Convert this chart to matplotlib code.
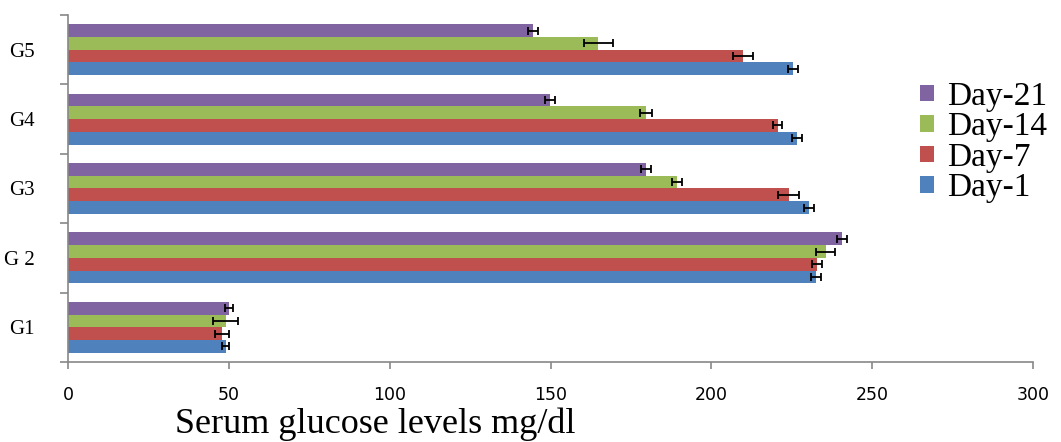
import numpy as np
import matplotlib.pyplot as plt

groups = ["G1", "G 2", "G3", "G4", "G5"]
series = ["Day-1", "Day-7", "Day-14", "Day-21"]
colors = ["#4F81BD", "#C0504D", "#9BBB59", "#8064A2"]

day1 = [49, 232.5, 230.3, 226.6, 225.4]
day7 = [48, 232.8, 224, 220.7, 209.8]
day14 = [49, 235.6, 189.3, 179.7, 164.8]
day21 = [50, 240.6, 179.7, 149.8, 144.5]

err1 = [1.0, 1.5, 1.5, 1.5, 1.5]
err7 = [2.2, 1.5, 3.3, 1.4, 3.0]
err14 = [4.0, 3.0, 1.5, 2.0, 4.5]
err21 = [1.3, 1.5, 1.5, 1.5, 1.5]

vals = [day1, day7, day14, day21]
errs = [err1, err7, err14, err21]

fig = plt.figure(figsize=(10.61, 4.42), dpi=100)
ax = fig.add_axes([68/1061, 1-362/442, (1033-68)/1061, (362-15)/442])

y = np.arange(len(groups))
h = 0.184
for i in range(4):
    ax.barh(y + (i - 1.5)*h, vals[i], height=h, color=colors[i], label=series[i],
            xerr=errs[i], error_kw=dict(ecolor="black", elinewidth=1.3, capsize=3, capthick=1.3))

ax.set_xlim(0, 300)
ax.set_ylim(-0.5, 4.5)
ax.set_xticks(np.arange(0, 301, 50))
ax.set_yticks(y)
ax.set_yticklabels(groups, family="Liberation Serif", fontsize=15)
ax.set_yticks(np.arange(-0.5, 5, 1), minor=True)
ax.tick_params(axis="y", which="major", length=0, pad=24)
ax.tick_params(axis="y", which="minor", length=6, color="#888888", width=1.2)
ax.tick_params(axis="x", length=5, color="#888888", width=1.2, pad=12, labelsize=12.5)
for s in ["top", "right"]:
    ax.spines[s].set_visible(False)
for s in ["left", "bottom"]:
    ax.spines[s].set_color("#888888")
    ax.spines[s].set_linewidth(1.2)

handles, labels = ax.get_legend_handles_labels()
fig.legend(handles[::-1], labels[::-1], loc="upper left", bbox_to_anchor=(897/1061, 1-58/442),
           frameon=False, prop={"family": "Liberation Serif", "size": 24},
           handlelength=0.4, handleheight=0.4, handletextpad=0.4, labelspacing=0.0,
           borderpad=0.2)

fig.text(175/1061, 1-433/442, "Serum glucose levels mg/dl", family="Liberation Serif",
         fontsize=26, ha="left", va="baseline")

fig.savefig("out.png")
